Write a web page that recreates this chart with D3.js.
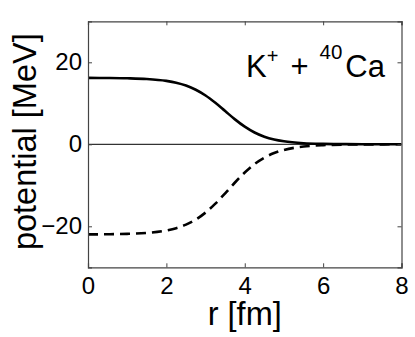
<!DOCTYPE html>
<html>
<head>
<meta charset="utf-8">
<script src="https://cdn.jsdelivr.net/npm/d3@7"></script>
<style>
  body { margin: 0; background: #fff; }
  text { font-family: "Liberation Sans", Arial, sans-serif; fill: #000; }
</style>
</head>
<body>
<div id="chart"></div>
<script>
// values
var rValues = [0, 0.5, 1, 1.5, 2, 2.25, 2.5, 2.75, 3, 3.25, 3.5, 3.75, 4, 4.25, 4.5, 4.75, 5, 5.5, 6, 6.5, 7, 8];
var vectorPot = [16.2, 16.17, 16.1, 15.93, 15.47, 15.03, 14.34, 13.31, 11.91, 10.12, 8.1, 6.08, 4.3, 2.88, 1.86, 1.17, 0.73, 0.27, 0.1, 0.04, 0.01, 0];
var scalarPot = [-21.98, -21.94, -21.85, -21.61, -21.01, -20.45, -19.6, -18.35, -16.65, -14.47, -11.95, -9.32, -6.88, -4.82, -3.26, -2.14, -1.37, -0.55, -0.21, -0.08, -0.03, 0];
var xTicks = [0, 2, 4, 6, 8];
var yTicks = [-20, 0, 20];

var width = 415, height = 337;
var margin = {left: 88, right: 13.5, top: 21.3, bottom: 69.7};

var svg = d3.select("#chart").append("svg")
    .attr("width", width)
    .attr("height", height);

var x = d3.scaleLinear().domain([0, 8]).range([margin.left, width - margin.right]);
var y = d3.scaleLinear().domain([-30, 30]).range([height - margin.bottom, margin.top]);

svg.append("clipPath").attr("id", "clip")
    .append("rect")
    .attr("x", x(0)).attr("y", y(30))
    .attr("width", x(8) - x(0)).attr("height", y(-30) - y(30));

// zero line
svg.append("line")
    .attr("x1", x(0)).attr("x2", x(8))
    .attr("y1", y(0)).attr("y2", y(0))
    .attr("stroke", "#000").attr("stroke-width", 1);

var line = d3.line()
    .x(function(d){ return x(d[0]); })
    .y(function(d){ return y(d[1]); })
    .curve(d3.curveMonotoneX);

var g = svg.append("g").attr("clip-path", "url(#clip)");

g.append("path")
    .datum(d3.zip(rValues, scalarPot))
    .attr("d", line)
    .attr("fill", "none")
    .attr("stroke", "#000")
    .attr("stroke-width", 2.6)
    .attr("stroke-dasharray", "10,6");

g.append("path")
    .datum(d3.zip(rValues, vectorPot))
    .attr("d", line)
    .attr("fill", "none")
    .attr("stroke", "#000")
    .attr("stroke-width", 2.6);

// axes box with inward ticks
var axisColor = "#444";
var axBottom = svg.append("g").attr("transform", "translate(0," + y(-30) + ")")
    .call(d3.axisBottom(x).tickValues(xTicks).tickSize(-4).tickPadding(10).tickFormat(d3.format("d")));
var axTop = svg.append("g").attr("transform", "translate(0," + y(30) + ")")
    .call(d3.axisTop(x).tickValues(xTicks).tickSize(-4).tickFormat(""));
var axLeft = svg.append("g").attr("transform", "translate(" + x(0) + ",0)")
    .call(d3.axisLeft(y).tickValues(yTicks).tickSize(-4).tickPadding(6)
        .tickFormat(function(d){ return d < 0 ? "\u2212" + Math.abs(d) : d; }));
var axRight = svg.append("g").attr("transform", "translate(" + x(8) + ",0)")
    .call(d3.axisRight(y).tickValues(yTicks).tickSize(-4).tickFormat(""));

[axBottom, axTop, axLeft, axRight].forEach(function(a){
    a.select(".domain").attr("stroke", axisColor).attr("stroke-width", 1.2);
    a.selectAll(".tick line").attr("stroke", axisColor);
    a.selectAll("text").style("font-size", "24px").style("font-family", "'Liberation Sans', Arial, sans-serif").attr("fill", "#000");
});

// axis labels
svg.append("text")
    .attr("x", x(4)).attr("y", 325)
    .attr("text-anchor", "middle")
    .style("font-size", "32.5px")
    .text("r [fm]");

svg.append("text")
    .attr("transform", "translate(36,141.7) rotate(-90)")
    .attr("text-anchor", "middle")
    .style("font-size", "32.5px")
    .text("potential [MeV]");

// reaction label
var lab = svg.append("text")
    .attr("x", 246).attr("y", 77.3)
    .style("font-size", "31px");
lab.append("tspan").text("K");
lab.append("tspan").attr("dy", -14).style("font-size", "20px").text("+");
lab.append("tspan").attr("dy", 14).attr("dx", 12).text("+");
lab.append("tspan").attr("dy", -18).attr("dx", 11).style("font-size", "20.5px").text("40");
lab.append("tspan").attr("dy", 18).attr("dx", 3).text("Ca");
</script>
</body>
</html>
